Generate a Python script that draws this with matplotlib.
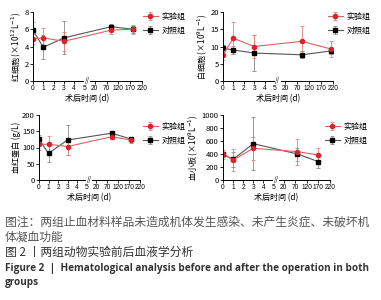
import numpy as np
import matplotlib.pyplot as plt

plt.rcParams['font.family'] = ['Noto Sans CJK SC', 'DejaVu Sans']
plt.rcParams['mathtext.fontset'] = 'dejavusans'

# days after operation
daysRbc = [0, 1, 3, 90, 180]
daysWbc = [0, 1, 3, 90, 210]
daysHb = [0, 1, 3, 90, 180]
daysPlt = [0, 1, 3, 80, 170]

# red blood cells (x10^12/L)
rbcExp = [4.9, 5.0, 4.6, 5.9, 6.0]
rbcExpErr = [0.6, 1.1, 1.1, 0.4, 0.5]
rbcCtl = [5.9, 3.9, 5.0, 6.3, 6.0]
rbcCtlErr = [0.9, 1.4, 1.9, 0.35, 0.4]

# white blood cells (x10^9/L)
wbcExp = [7.6, 12.4, 10.0, 11.5, 9.3]
wbcExpErr = [1.4, 4.7, 3.4, 4.3, 2.3]
wbcCtl = [9.5, 9.0, 8.1, 7.6, 8.7]
wbcCtlErr = [1.0, 1.2, 5.2, 1.0, 1.0]

# haemoglobin (g/L)
hbExp = [110, 110, 103, 133, 123]
hbExpErr = [18, 24, 26, 7, 10]
hbCtl = [125, 82, 123, 144, 126]
hbCtlErr = [15, 26, 47, 5, 7]

# platelets (x10^9/L)
pltExp = [395, 308, 487, 436, 385]
pltExpErr = [65, 165, 180, 200, 100]
pltCtl = [395, 318, 559, 400, 282]
pltCtlErr = [40, 115, 410, 100, 90]

xTicks = [0, 1, 2, 3, 4, 5, 20, 70, 120, 170, 220]
xTickLabels = ['0', '1', '2', '3', '4', '5', '20', '70', '120', '170', '220']

RED = '#d8232a'
W, H = 381, 300


def fwd(x):
    return np.interp(x, [0, 5, 20, 220], [0, 5, 6, 10.6])


def inv(x):
    return np.interp(x, [0, 5, 6, 10.6], [0, 5, 20, 220])


def panel(rect, days, exp, expErr, ctl, ctlErr, ymax, ystep, ylabel, legPos):
    x0, y0, x1, y1 = rect
    ax = fig.add_axes([x0 / W, 1 - y1 / H, (x1 - x0) / W, (y1 - y0) / H])
    ax.set_xscale('function', functions=(fwd, inv))
    ax.errorbar(days, ctl, yerr=ctlErr, color='#555555', ecolor='#888888',
                lw=0.8, elinewidth=0.6, capsize=1.2, capthick=0.6,
                marker='s', ms=3, mfc='black', mec='black', label='对照组')
    ax.errorbar(days, exp, yerr=expErr, color='#e06060', ecolor='#e88080',
                lw=0.8, elinewidth=0.6, capsize=1.2, capthick=0.6,
                marker='o', ms=3, mfc=RED, mec=RED, label='实验组')
    ax.set_xlim(0, 222)
    ax.set_ylim(0, ymax)
    ax.set_xticks(xTicks)
    ax.set_xticklabels(xTickLabels, family=['Liberation Sans Narrow', 'Liberation Sans'])
    ax.set_yticks(np.arange(0, ymax + 1e-9, ystep))
    ax.tick_params(labelsize=4.8, length=2, width=0.6, pad=1)
    ax.tick_params(axis='y', labelsize=5.5)
    for s in ['top', 'right']:
        ax.spines[s].set_visible(False)
    for s in ['left', 'bottom']:
        ax.spines[s].set_linewidth(0.7)
    ax.set_xlabel('术后时间 (d)', fontsize=5.8, labelpad=1.5)
    ax.set_ylabel(ylabel, fontsize=5.8, labelpad=1)
    # axis break mark
    ax.text(9, 0, '//', fontsize=4.5, ha='center', va='center',
            transform=ax.get_xaxis_transform(),
            bbox=dict(fc='white', ec='none', pad=0.3), clip_on=False)
    h, l = ax.get_legend_handles_labels()
    fig.legend(h[::-1], l[::-1], loc='upper left',
               bbox_to_anchor=(legPos[0] / W, 1 - legPos[1] / H),
               fontsize=5.8, frameon=False, handlelength=1.8,
               handletextpad=0.5, labelspacing=0.6, borderaxespad=0)
    return ax


fig = plt.figure(figsize=(W / 100, H / 100), dpi=100)

panel((33, 12, 142, 81), daysRbc, rbcExp, rbcExpErr, rbcCtl, rbcCtlErr,
      8, 2, '红细胞 (×10$^{12}$L$^{-1}$)', (140, 9))
panel((223, 12, 333, 81), daysWbc, wbcExp, wbcExpErr, wbcCtl, wbcCtlErr,
      20, 5, '白细胞 (×10$^{9}$L$^{-1}$)', (325, 9))
panel((39, 115, 140, 180), daysHb, hbExp, hbExpErr, hbCtl, hbCtlErr,
      200, 50, '血红蛋白 (g/L)', (140, 119))
panel((223, 115, 330, 180), daysPlt, pltExp, pltExpErr, pltCtl, pltCtlErr,
      1000, 200, '血小板 (×10$^{9}$L$^{-1}$)', (322, 119))

fig.text(5 / W, 1 - 222 / H, '图注：两组止血材料样品未造成机体发生感染、未产生炎症、未破坏机',
         fontsize=8.5, color='#555555', va='center')
fig.text(5 / W, 1 - 237 / H, '体凝血功能', fontsize=8.5, color='#555555', va='center')
fig.text(5 / W, 1 - 252 / H, '图 2 丨两组动物实验前后血液学分析',
         fontsize=8.5, color='#333333', va='center')
fig.text(5 / W, 1 - 268 / H,
         'Figure 2  |  Hematological analysis before and after the operation in both',
         fontsize=7.2, fontweight='bold', color='#333333', va='center',
         family=['Open Sans', 'DejaVu Sans'])
fig.text(5 / W, 1 - 283 / H, 'groups', fontsize=7.2, fontweight='bold',
         color='#333333', va='center', family=['Open Sans', 'DejaVu Sans'])

fig.savefig('out.png', dpi=100)
